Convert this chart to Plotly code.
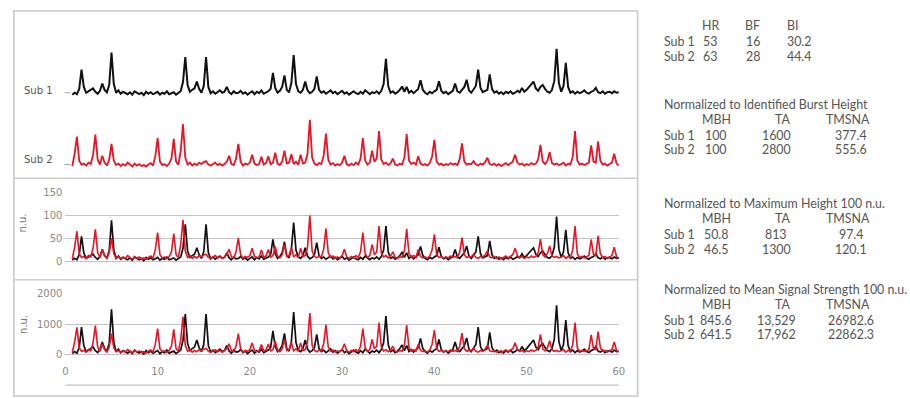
import numpy as np
import plotly.graph_objects as go

# ---------------- data (max-height normalised, n.u.; sampled every 0.25 s from 0.75 s) -------------
T_START = 0.75
T_STEP = 0.25

sub1 = [2,
    6, 3, 14, 54,   18, 6, 9, 12,   15, 8, 4, 10,   25, 12, 7, 22,   89, 24, 6, 11,     # 1-5
    4, 8, 5, 3,     7, 2, 9, 5,     3, 6, 1, 8,     4, 7, 3, 5,     8, 2, 6, 4,        # 6-10
    9, 3, 5, 7,     2, 6, 9, 28,    80, 22, 8, 12,  15, 29, 14, 6,  20, 80, 18, 5,     # 11-15
    9, 4, 7, 11,    6, 8, 18, 7,    3, 9, 5, 6,     10, 4, 7, 2,    6, 9, 3, 8,        # 16-20
    5, 11, 4, 7,    9, 14, 47, 16,  6, 10, 18, 42,  12, 7, 26, 84,  24, 9, 6, 12,      # 21-25
    29, 11, 5, 8,   14, 40, 12, 6,  9, 4, 7, 11,    5, 8, 3, 6,     10, 4, 7, 2,       # 26-30
    6, 9, 5, 3,     8, 4, 11, 6,    3, 7, 5, 9,     4, 10, 24, 76,  20, 6, 9, 4,       # 31-35
    7, 12, 19, 8,   18, 6, 10, 5,   9, 14, 32, 12,  6, 3, 8, 5,     9, 12, 30, 10,     # 36-40
    5, 8, 3, 7,     10, 25, 9, 6,   12, 18, 33, 11, 6, 14, 20, 54,  16, 7, 10, 12,     # 41-45
    44, 14, 6, 9,   4, 7, 3, 8,     5, 9, 4, 6,     10, 7, 16, 8,   12, 18, 24, 29,    # 46-50
    15, 10, 18, 22, 14, 8, 6, 12,   30, 97, 26, 8,  20, 68, 18, 6,  9, 4, 8, 5,        # 51-55
    7, 11, 6, 4,    8, 10, 16, 7,   5, 9, 4, 7,     8, 5, 9, 6,                        # 56-59
    7]

sub2 = [5,
    30, 65, 16, 8,  10, 6, 12, 9,   28, 69, 18, 8,  26, 12, 6, 18,  50, 16, 7, 10,     # 1-5
    5, 9, 6, 12,    8, 4, 10, 6,    9, 5, 7, 4,     8, 11, 6, 25,   62, 14, 7, 9,      # 6-10
    5, 10, 20, 60,  14, 8, 35, 90,  22, 8, 12, 6,   10, 7, 12, 9,   13, 15, 8, 6,      # 11-15
    9, 12, 7, 10,   6, 9, 14, 26,   9, 7, 20, 50,   14, 6, 10, 8,   12, 28, 10, 7,     # 16-20
    9, 24, 8, 11,   25, 9, 12, 32,  10, 7, 14, 36,  10, 12, 29, 9,  14, 8, 28, 10,     # 21-25
    12, 30, 99, 22, 10, 7, 11, 9,   26, 71, 18, 8,  11, 6, 9, 7,    12, 26, 9, 6,      # 26-30
    10, 7, 12, 8,   20, 62, 16, 8,  12, 36, 14, 20, 76, 18, 9, 12,  7, 11, 20, 8,      # 31-35
    6, 10, 8, 22,   70, 16, 9, 12,  8, 25, 10, 7,   9, 6, 11, 24,   58, 14, 8, 10,     # 36-40
    6, 9, 7, 11,    8, 10, 7, 20,   51, 14, 8, 10,  9, 15, 8, 6,    10, 8, 13, 22,     # 41-45
    9, 7, 10, 6,    9, 5, 8, 11,    7, 10, 14, 28,  12, 8, 10, 6,   9, 7, 11, 8,       # 46-50
    10, 18, 48, 14, 9, 16, 33, 11,  8, 10, 7, 9,    12, 6, 10, 8,   24, 76, 16, 8,     # 51-55
    10, 7, 9, 12,   47, 14, 12, 55, 16, 8, 10, 6,   9, 12, 30, 10,                     # 56-59
    6]

t = T_START + T_STEP * np.arange(len(sub1))

# tables
subjects = ["Sub 1", "Sub 2"]
t1_cols = ["HR", "BF", "BI"]
t1_vals = [["53", "16", "30.2"], ["63", "28", "44.4"]]

t2_title = "Normalized to Identified Burst Height"
t3_title = "Normalized to Maximum Height 100 n.u."
t4_title = "Normalized to Mean Signal Strength 100 n.u."
tn_cols = ["MBH", "TA", "TMSNA"]
t2_vals = [["100", "1600", "377.4"], ["100", "2800", "555.6"]]
t3_vals = [["50.8", "813", "97.4"], ["46.5", "1300", "120.1"]]
t4_vals = [["845.6", "13,529", "26982.6"], ["641.5", "17,962", "22862.3"]]

# mean-signal normalisation factor = MBH(mean) / MBH(max)
f1 = float(t4_vals[0][0]) / float(t3_vals[0][0])
f2 = float(t4_vals[1][0]) / float(t3_vals[1][0])
sub1_mean = [v * f1 for v in sub1]
sub2_mean = [v * f2 for v in sub2]

x_ticks = [0, 10, 20, 30, 40, 50, 60]

# ---------------- layout helpers ----------------
W, H = 910, 398
def px(x):
    return x / W
def py(y):
    return 1 - y / H
def ydom(r0, r1, y0px, ppu):
    bottom = y0px + (-r0) * ppu
    top = y0px - r1 * ppu
    return [py(bottom), py(top)]

XDOM = [px(63), px(622)]
BLACK = "#111111"
RED = "#ee1122"
GRID = "#c4c4c4"
TXT = "#555555"
FONT = "DejaVu Sans"
TFONT = "Lato"

fig = go.Figure()
fig.add_trace(go.Scatter(x=t, y=sub1, xaxis="x", yaxis="y", mode="lines",
                         line=dict(color=BLACK, width=2.0)))
fig.add_trace(go.Scatter(x=t, y=sub2, xaxis="x2", yaxis="y2", mode="lines",
                         line=dict(color=RED, width=1.8)))
fig.add_trace(go.Scatter(x=t, y=sub1, xaxis="x3", yaxis="y3", mode="lines",
                         line=dict(color=BLACK, width=1.7)))
fig.add_trace(go.Scatter(x=t, y=sub2, xaxis="x3", yaxis="y3", mode="lines",
                         line=dict(color=RED, width=1.6)))
fig.add_trace(go.Scatter(x=t, y=sub1_mean, xaxis="x4", yaxis="y4", mode="lines",
                         line=dict(color=BLACK, width=1.7)))
fig.add_trace(go.Scatter(x=t, y=sub2_mean, xaxis="x4", yaxis="y4", mode="lines",
                         line=dict(color=RED, width=1.6)))

hid = dict(visible=False, domain=XDOM, range=[0, 60])
lay = dict(
    width=W, height=H, margin=dict(l=0, r=0, t=0, b=0),
    paper_bgcolor="white", plot_bgcolor="rgba(0,0,0,0)", showlegend=False,
    font=dict(family=FONT, size=10, color=TXT),
    xaxis=dict(hid, anchor="y"),
    xaxis2=dict(hid, anchor="y2"),
    xaxis3=dict(hid, anchor="y3"),
    xaxis4=dict(domain=XDOM, range=[0, 60], anchor="y4", tickvals=x_ticks,
                showgrid=False, zeroline=False, showline=False, ticks="",
                tickfont=dict(family=FONT, size=10, color="#8a8a8a")),
    yaxis=dict(visible=False, range=[-15, 110], domain=ydom(-15, 110, 91, 0.49)),
    yaxis2=dict(visible=False, range=[-15, 110], domain=ydom(-15, 110, 165, 0.5)),
    yaxis3=dict(range=[-20, 150], domain=ydom(-20, 150, 259, 70 / 150), anchor="x3",
                tickvals=[0, 50, 100, 150], showgrid=True, gridcolor=GRID, gridwidth=1.2,
                zeroline=False, showline=False, ticks="", ticklabelstandoff=2,
                tickfont=dict(family=FONT, size=10, color="#8a8a8a")),
    yaxis4=dict(range=[-300, 2000], domain=ydom(-300, 2000, 354, 62 / 2000), anchor="x4",
                tickvals=[0, 1000, 2000], showgrid=True, gridcolor=GRID, gridwidth=1.2,
                zeroline=False, showline=False, ticks="", ticklabelstandoff=2,
                tickfont=dict(family=FONT, size=10, color="#8a8a8a")),
)
fig.update_layout(**lay)

# frame and separators
BORDER = "#cfcfcf"
def pline(x0, y0, x1, y1, color=BORDER, width=1.5):
    fig.add_shape(type="line", xref="paper", yref="paper", x0=px(x0), y0=py(y0),
                  x1=px(x1), y1=py(y1), line=dict(color=color, width=width))
fig.add_shape(type="rect", xref="paper", yref="paper", x0=px(11), y0=py(396), x1=px(641), y1=py(5),
              line=dict(color=BORDER, width=1.8))
pline(11, 175, 641, 175)
pline(11, 278, 641, 278)
pline(63, 385, 622, 385, color=GRID, width=1.2)
pline(62, 88, 68, 88, color="#aaaaaa", width=1)
pline(62, 161, 68, 161, color="#aaaaaa", width=1)

def ann(text, x, y, xanchor="left", size=10.5, family=TFONT, angle=0, color=TXT, dy=0):
    fig.add_annotation(text=text, xref="paper", yref="paper", x=px(x), y=py(y + dy),
                       xanchor=xanchor, yanchor="middle", showarrow=False, textangle=angle,
                       font=dict(family=family, size=size, color=color))

# left labels
ann(subjects[0], 19, 88, family=FONT, size=10, dy=-2)
ann(subjects[1], 19, 158, family=FONT, size=10, dy=-2)
ann("n.u.", 20, 220, xanchor="center", family=FONT, size=10, angle=-90, color="#777777")
ann("n.u.", 20, 323, xanchor="center", family=FONT, size=10, angle=-90, color="#777777")

# right tables
TS = 12.4
DY = -4
ann(t1_cols[0], 715, 24, "center", TS, dy=DY)
ann(t1_cols[1], 757, 24, "center", TS, dy=DY)
ann(t1_cols[2], 797, 24, "center", TS, dy=DY)
t1_centers = [714, 757, 804]
for r, yy in enumerate([40, 55]):
    ann(subjects[r], 666, yy, "left", TS, dy=DY)
    for c in range(3):
        ann(t1_vals[r][c], t1_centers[c], yy, "center", TS, dy=DY)

hdr_centers = [721, 787, 853]
val_centers = [720, 781, 856]
for title, vals, y0 in [(t2_title, t2_vals, 104), (t3_title, t3_vals, 205), (t4_title, t4_vals, 292)]:
    ann(title, 666, y0, "left", TS, dy=DY)
    for c in range(3):
        ann(tn_cols[c], hdr_centers[c], y0 + 15, "center", TS, dy=DY)
    for r in range(2):
        yy = y0 + 31 + 15 * r
        ann(subjects[r], 666, yy, "left", TS, dy=DY)
        for c in range(3):
            ann(vals[r][c], val_centers[c], yy, "center", TS, dy=DY)

fig.write_html("out.html", config={"displayModeBar": False},
               post_script="document.body.style.margin='0px';document.body.style.overflow='hidden';")
